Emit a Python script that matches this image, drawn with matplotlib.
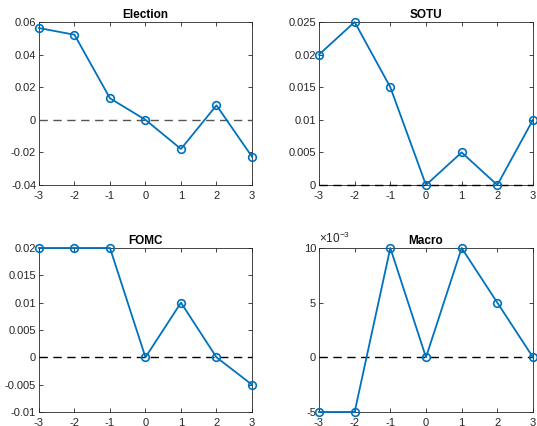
import matplotlib.pyplot as plt
import numpy as np

plt.rcParams['font.family'] = ['Liberation Sans', 'DejaVu Sans']
plt.rcParams['mathtext.fontset'] = 'custom'
plt.rcParams['mathtext.rm'] = 'Liberation Sans'

# event window
lags = [-3, -2, -1, 0, 1, 2, 3]

election = [0.0563, 0.0522, 0.0132, 0.0, -0.0179, 0.0089, -0.0226]
sotu = [0.02, 0.025, 0.015, 0.0, 0.005, 0.0, 0.01]
fomc = [0.02, 0.02, 0.02, 0.0, 0.01, 0.0, -0.005]
macro = [-0.005, -0.005, 0.01, 0.0, 0.01, 0.005, 0.0]

titles = ["Election", "SOTU", "FOMC", "Macro"]
series = [election, sotu, fomc, macro]

yticks = [
    [-0.04, -0.02, 0, 0.02, 0.04, 0.06],
    [0, 0.005, 0.01, 0.015, 0.02, 0.025],
    [-0.01, -0.005, 0, 0.005, 0.01, 0.015, 0.02],
    [-0.005, 0, 0.005, 0.01],
]
ylabels = [
    ["-0.04", "-0.02", "0", "0.02", "0.04", "0.06"],
    ["0", "0.005", "0.01", "0.015", "0.02", "0.025"],
    ["-0.01", "-0.005", "0", "0.005", "0.01", "0.015", "0.02"],
    ["-5", "0", "5", "10"],
]
zero_colors = ["#555555", "k", "k", "k"]

blue = "#0072BD"
axcol = "#262626"

fig = plt.figure(figsize=(5.37, 4.26), dpi=100)

# left, bottom, width, height
boxes = [
    (0.0726, 0.5657, 0.3966, 0.3826),
    (0.594, 0.5657, 0.3985, 0.3826),
    (0.0726, 0.0329, 0.3966, 0.385),
    (0.594, 0.0329, 0.3985, 0.385),
]

for i in range(4):
    ax = fig.add_axes(boxes[i])
    ax.axhline(0, color=zero_colors[i], ls=(0, (6, 4)), lw=1.0, zorder=2.6,
               clip_on=False)
    ax.plot(lags, series[i], color=blue, lw=1.3, marker="o", ms=5.5,
            mfc="none", mew=1.2, clip_on=False, zorder=3)
    ax.set_xlim(-3, 3)
    ax.set_ylim(yticks[i][0], yticks[i][-1])
    ax.set_xticks(lags)
    ax.set_xticklabels([str(v) for v in lags])
    ax.set_yticks(yticks[i])
    ax.set_yticklabels(ylabels[i])
    ax.tick_params(direction="in", top=True, right=True, length=3,
                   width=0.6, colors=axcol, labelsize=8, pad=2)
    ax.tick_params(axis="x", pad=4)
    for s in ax.spines.values():
        s.set_color(axcol)
        s.set_linewidth(0.6)
    ax.set_title(titles[i], fontsize=8.5, fontweight="bold", pad=3)

    if titles[i] == "Macro":
        ax.text(0.0, 1.01, r"$\times10^{-3}$", transform=ax.transAxes,
                fontsize=8.5, color=axcol, ha="left", va="bottom")

plt.savefig("out.png", dpi=100)
plt.close()
